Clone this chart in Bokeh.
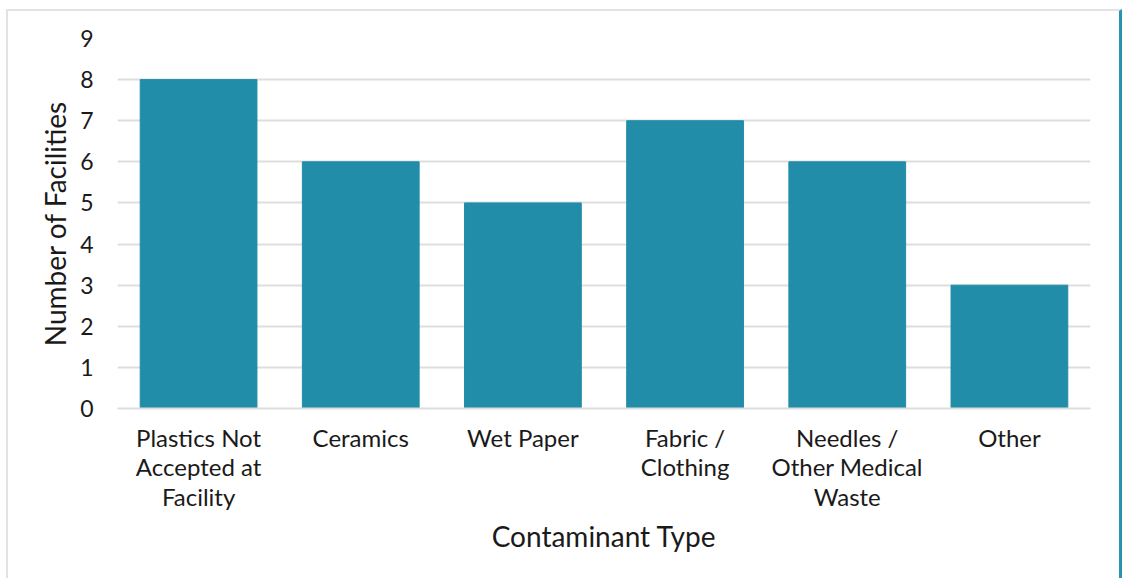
from bokeh.plotting import figure
from bokeh.models import FixedTicker
from bokeh.embed import file_html
from bokeh.resources import INLINE

categories = ["Plastics Not Accepted at Facility", "Ceramics", "Wet Paper",
              "Fabric / Clothing", "Needles / Other Medical Waste", "Other"]
tick_labels = ["Plastics Not\nAccepted at\nFacility", "Ceramics", "Wet Paper",
               "Fabric /\nClothing", "Needles /\nOther Medical\nWaste", "Other"]
values = [8, 6, 5, 7, 6, 3]
y_ticks = [0, 1, 2, 3, 4, 5, 6, 7, 8, 9]

FONT = "Lato"
BAR = "#218DA8"

xpos = [i + 0.5 for i in range(len(categories))]

p = figure(x_range=(0, len(categories)), y_range=(0, 9), width=1116, height=569,
           output_backend="svg", toolbar_location=None,
           min_border_left=109, min_border_right=34, min_border_top=27, min_border_bottom=172)
p.margin = (9, 0, 0, 6)
p.styles = {"border-left": "2px solid #e3e3e3", "border-top": "2px solid #e3e3e3",
            "border-right": "3px solid #2a93ad", "box-sizing": "border-box"}

p.vbar(x=xpos, top=values, width=0.72, color=BAR)

p.outline_line_color = None
p.xgrid.grid_line_color = None
p.ygrid.grid_line_color = "#dedede"
p.ygrid.grid_line_width = 2
p.yaxis.ticker = FixedTicker(ticks=y_ticks)
p.xaxis.ticker = FixedTicker(ticks=xpos)
p.xaxis.major_label_overrides = {x: lab for x, lab in zip(xpos, tick_labels)}

for ax in (p.xaxis, p.yaxis):
    ax.major_tick_line_color = None
    ax.minor_tick_line_color = None
    ax.major_label_text_font = FONT
    ax.major_label_text_color = "#1a1a1a"
    ax.axis_label_text_font = FONT
    ax.axis_label_text_font_size = "28px"
    ax.axis_label_text_font_style = "normal"
    ax.axis_label_text_color = "#1a1a1a"

p.xaxis.major_label_text_font_size = "24px"
p.xaxis.major_label_text_line_height = 1.02
p.yaxis.major_label_text_font_size = "23px"

p.yaxis.axis_line_color = None
p.yaxis.major_label_standoff = 18
p.yaxis.axis_label = "Number of Facilities"
p.yaxis.axis_label_standoff = 5

p.xaxis.axis_line_color = "#dedede"
p.xaxis.axis_line_width = 2
p.xaxis.major_label_standoff = 8
p.xaxis.axis_label = "Contaminant Type"
p.xaxis.axis_label_standoff = 5

open("out.html", "w").write(file_html(p, INLINE))
